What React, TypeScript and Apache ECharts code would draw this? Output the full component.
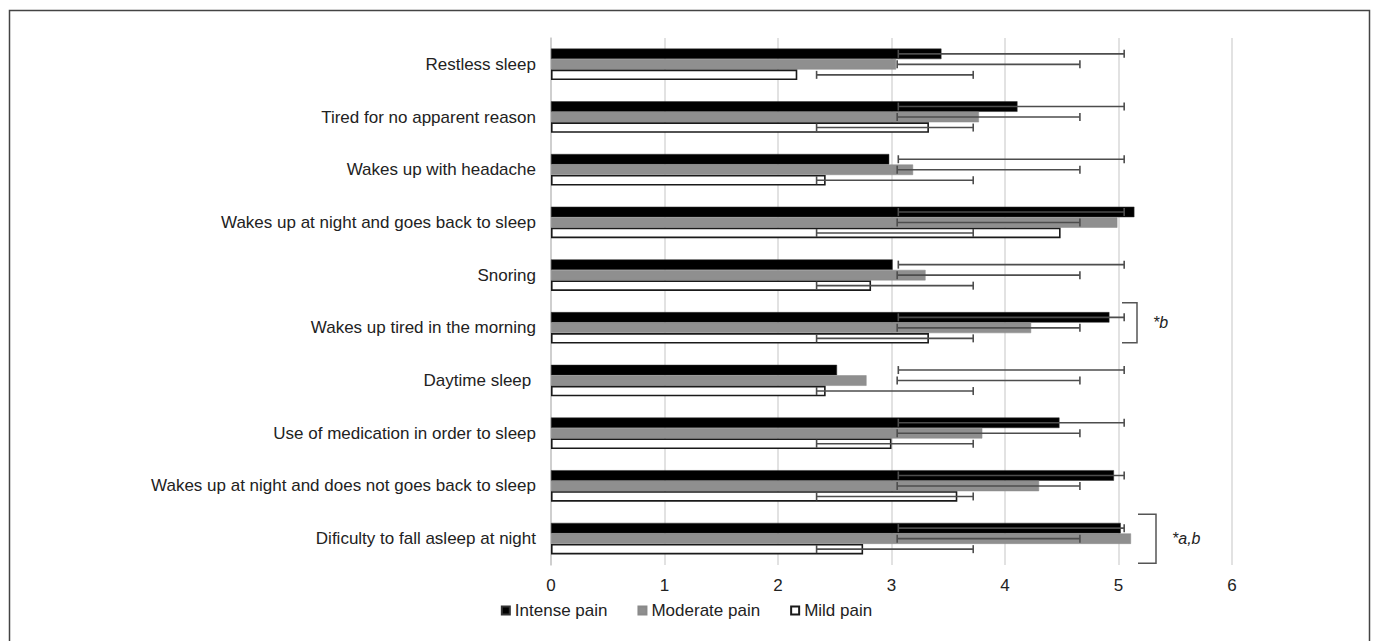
import React, { useEffect, useRef } from "react";
import * as echarts from "echarts";

const categories = [
  "Restless sleep",
  "Tired for no apparent reason",
  "Wakes up with headache",
  "Wakes up at night and goes back to sleep",
  "Snoring",
  "Wakes up tired in the morning",
  "Daytime sleep ",
  "Use of medication in order to sleep",
  "Wakes up at night and does not goes back to sleep",
  "Dificulty to fall asleep at night",
];

const intense = [3.44, 4.11, 2.98, 5.14, 3.01, 4.92, 2.52, 4.48, 4.96, 5.02];
const moderate = [3.04, 3.77, 3.19, 4.99, 3.3, 4.23, 2.78, 3.8, 4.3, 5.11];
const mild = [2.17, 3.33, 2.42, 4.49, 2.82, 3.33, 2.42, 3.0, 3.58, 2.75];

// error bar extents as drawn in the figure (low, high)
const intenseErrLow = [3.06, 3.06, 3.06, 3.06, 3.06, 3.06, 3.06, 3.06, 3.06, 3.06];
const intenseErrHigh = [5.05, 5.05, 5.05, 5.05, 5.05, 5.05, 5.05, 5.05, 5.05, 5.05];
const moderateErrLow = [3.05, 3.05, 3.05, 3.05, 3.05, 3.05, 3.05, 3.05, 3.05, 3.05];
const moderateErrHigh = [4.66, 4.66, 4.66, 4.66, 4.66, 4.66, 4.66, 4.66, 4.66, 4.66];
const mildErrLow = [2.34, 2.34, 2.34, 2.34, 2.34, 2.34, 2.34, 2.34, 2.34, 2.34];
const mildErrHigh = [3.72, 3.72, 3.72, 3.72, 3.72, 3.72, 3.72, 3.72, 3.72, 3.72];

const xTicks = [0, 1, 2, 3, 4, 5, 6];

// significance brackets next to these categories
const brackets = [
  { cat: 5, label: "*b" },
  { cat: 9, label: "*a,b" },
];

const FONT = "'Liberation Sans', Arial, Helvetica, sans-serif";
const BAR_W = 10.5;

function errSeries(name: string, low: number[], high: number[], slot: number) {
  return {
    type: "custom",
    name: name + " err",
    z: 10,
    silent: true,
    data: low.map((l, i) => [i, l, high[i]]),
    encode: { x: [1, 2], y: 0 },
    renderItem: (params: any, api: any) => {
      const cat = api.value(0);
      const p1 = api.coord([api.value(1), cat]);
      const p2 = api.coord([api.value(2), cat]);
      const y = p1[1] + slot * BAR_W;
      const h = 4;
      const style = { stroke: "#4d4d4d", lineWidth: 1.6 };
      return {
        type: "group",
        children: [
          { type: "line", shape: { x1: p1[0], y1: y, x2: p2[0], y2: y }, style },
          { type: "line", shape: { x1: p1[0], y1: y - h, x2: p1[0], y2: y + h }, style },
          { type: "line", shape: { x1: p2[0], y1: y - h, x2: p2[0], y2: y + h }, style },
        ],
      };
    },
  };
}

export default function App() {
  const ref = useRef<HTMLDivElement>(null);
  useEffect(() => {
    if (!ref.current) return;
    const chart = echarts.init(ref.current, undefined, { renderer: "svg" });
    chart.setOption({
      animation: false,
      backgroundColor: "#fff",
      textStyle: { fontFamily: FONT },
      grid: { left: 551, right: 141, top: 38, bottom: 76, containLabel: false },
      legend: {
        left: "center",
        top: 597,
        icon: "rect",
        itemWidth: 8,
        itemHeight: 8,
        itemGap: 30,
        textStyle: { fontSize: 17, color: "#222", fontFamily: FONT },
        data: ["Intense pain", "Moderate pain", "Mild pain"],
      },
      xAxis: {
        type: "value",
        min: xTicks[0],
        max: xTicks[xTicks.length - 1],
        interval: 1,
        axisLine: { show: false },
        axisTick: { show: false },
        axisLabel: { fontSize: 17, color: "#222", margin: 12, fontFamily: FONT },
        splitLine: { show: true, lineStyle: { color: "#d9d9d9", width: 1.5 } },
      },
      yAxis: {
        type: "category",
        inverse: true,
        data: categories,
        axisLine: { show: true, lineStyle: { color: "#c8c8c8", width: 1.5 } },
        axisTick: { show: false },
        axisLabel: { fontSize: 17, color: "#222", margin: 15, fontFamily: FONT },
      },
      series: [
        {
          type: "bar",
          name: "Intense pain",
          data: intense,
          barWidth: BAR_W,
          barGap: "0%",
          itemStyle: { color: "#000", borderColor: "#333", borderWidth: 0.5 },
        },
        {
          type: "bar",
          name: "Moderate pain",
          data: moderate,
          barWidth: BAR_W,
          barGap: "0%",
          itemStyle: { color: "#8f8f8f", borderColor: "#8a8a8a", borderWidth: 0.5 },
        },
        {
          type: "bar",
          name: "Mild pain",
          data: mild,
          barWidth: BAR_W,
          barGap: "0%",
          itemStyle: { color: "#fff", borderColor: "#1a1a1a", borderWidth: 1.6 },
        },
        errSeries("Intense pain", intenseErrLow, intenseErrHigh, -1),
        errSeries("Moderate pain", moderateErrLow, moderateErrHigh, 0),
        errSeries("Mild pain", mildErrLow, mildErrHigh, 1),
      ],
    });

    const g: any[] = [
      {
        type: "rect",
        shape: { x: 9.5, y: 10.5, width: 1360, height: 640 },
        style: { fill: "none", stroke: "#444", lineWidth: 1.5 },
        silent: true,
      },
    ];
    brackets.forEach((b, k) => {
      const c = chart.convertToPixel({ gridIndex: 0 } as any, [0, b.cat]) as number[];
      const half = k === 0 ? 20 : 24.5;
      const x0 = k === 0 ? 1122 : 1138;
      const x1 = k === 0 ? 1137 : 1156;
      const cy = c[1] + (k === 0 ? -5 : 0);
      g.push({
        type: "polyline",
        shape: { points: [[x0, cy - half], [x1, cy - half], [x1, cy + half], [x0, cy + half]] },
        style: { fill: "none", stroke: "#555", lineWidth: 1.5 },
        silent: true,
      });
      g.push({
        type: "text",
        x: x1 + 16,
        y: cy,
        style: {
          text: b.label,
          fontSize: 16,
          fontStyle: "italic",
          fontFamily: FONT,
          fill: "#222",
          verticalAlign: "middle",
          align: "left",
        },
        silent: true,
      });
    });
    chart.setOption({ graphic: g });

    return () => chart.dispose();
  }, []);
  return (
    <div
      ref={ref}
      style={{ position: "absolute", left: 0, top: 0, width: 1373, height: 641 }}
    />
  );
}
